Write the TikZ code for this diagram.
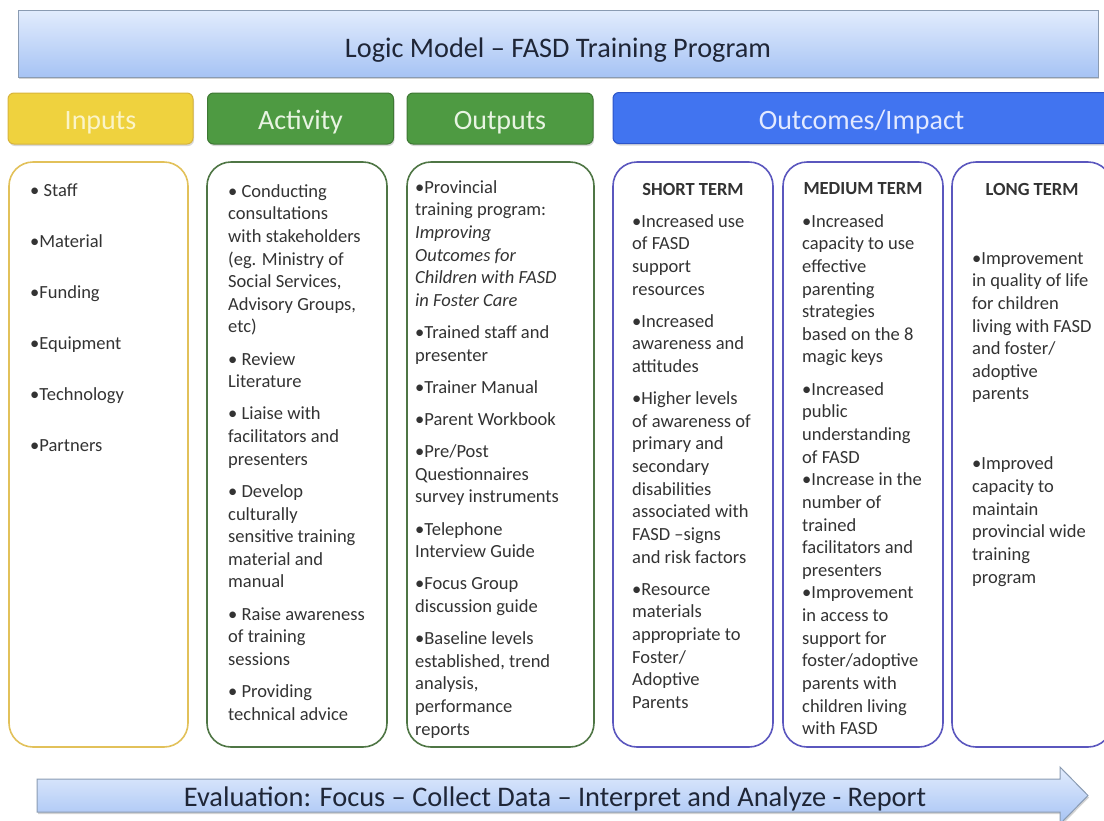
\documentclass[tikz,border=0pt]{standalone}
\usepackage{fontspec}
\setmainfont{Carlito}
\usetikzlibrary{shapes, arrows, positioning, shadows}
\definecolor{titletop}{HTML}{E2ECFD}
\definecolor{titlebot}{HTML}{A6C3F4}
\definecolor{titleline}{HTML}{8A9BB2}
\definecolor{titletext}{HTML}{1F2637}
\definecolor{inyellow}{HTML}{EFD23E}
\definecolor{inline}{HTML}{D8B43C}
\definecolor{intext}{HTML}{FBF4C8}
\definecolor{actgreen}{HTML}{4E9A42}
\definecolor{actline}{HTML}{3E7834}
\definecolor{acttext}{HTML}{E8F4E2}
\definecolor{impblue}{HTML}{4174F0}
\definecolor{impline}{HTML}{2D55C8}
\definecolor{imptext}{HTML}{E2E9FF}
\definecolor{colyellow}{HTML}{E2C15A}
\definecolor{colgreen}{HTML}{4F7645}
\definecolor{colpurple}{HTML}{5B57BE}
\definecolor{bodytext}{HTML}{333333}
\newcommand{\pgap}{\\[9.5pt]}
\tikzstyle{bar} = [draw=titleline, line width=1pt, top color=titletop, bottom color=titlebot, drop shadow={shadow xshift=1pt, shadow yshift=-2pt, opacity=0.35}]
\tikzstyle{header} = [rectangle, rounded corners=6pt, line width=1pt, minimum height=51pt, text height=24pt, text depth=2pt, font=\fontsize{28}{32}\selectfont, drop shadow={shadow xshift=1pt, shadow yshift=-2pt, opacity=0.3}]
\tikzstyle{column} = [rectangle, rounded corners=24pt, line width=1.6pt, fill=white, minimum height=585pt]
\tikzstyle{coltext} = [anchor=north west, align=left, inner sep=0pt, text=bodytext, font=\fontsize{18.5}{22.65}\selectfont]
\tikzstyle{termhead} = [inner sep=0pt, text=bodytext, font=\bfseries\fontsize{18.5}{22.65}\selectfont]
\begin{document}
\begin{tikzpicture}[x=1pt, y=-1pt]
	\clip (0,0) rectangle (1104,820);
	\node [bar, rectangle, minimum width=1080pt, minimum height=67pt, text height=28pt, text depth=1pt, text=titletext, font=\fontsize{28.3}{32}\selectfont] (title) at (558,43.5) {Logic Model – FASD Training Program};
	\node [header, draw=inline, fill=inyellow, text=intext, minimum width=185pt] (inputs) at (100.5,118.5) {Inputs};
	\node [header, draw=actline, fill=actgreen, text=acttext, minimum width=186pt] (activity) at (300.5,118.5) {Activity};
	\node [header, draw=actline, fill=actgreen, text=acttext, minimum width=186pt] (outputs) at (500,118.5) {Outputs};
	\node [header, draw=impline, fill=impblue, text=imptext, minimum width=497pt] (outcomes) at (861.5,118) {Outcomes/Impact};
	\node [column, draw=colyellow, minimum width=179pt] (inbox) at (98.5,454.5) {};
	\node [column, draw=colgreen, minimum width=180pt] (actbox) at (297,454.5) {};
	\node [column, draw=colgreen, minimum width=187pt] (outbox) at (500.5,454.5) {};
	\node [column, draw=colpurple, minimum width=160pt] (shortbox) at (693,454.5) {};
	\node [column, draw=colpurple, minimum width=160pt] (medbox) at (863,454.5) {};
	\node [column, draw=colpurple, minimum width=160pt] (longbox) at (1032,454.5) {};
	\node [coltext] (inlist) at (30,184) {• Staff\\[28.35pt]•Material\\[28.35pt]•Funding\\[28.35pt]•Equipment\\[28.35pt]•Technology\\[28.35pt]•Partners};
	\node [coltext] (actlist) at (228,184) {• Conducting\\consultations\\with stakeholders\\(eg. Ministry of\\Social Services,\\Advisory Groups,\\etc)\pgap
		• Review\\Literature\pgap
		• Liaise with\\facilitators and\\presenters\pgap
		• Develop\\culturally\\sensitive training\\material and\\manual\pgap
		• Raise awareness\\of training\\sessions\pgap
		• Providing\\technical advice};
	\node [coltext] (outlist) at (415,180) {•Provincial\\training program:\\\textit{Improving}\\\textit{Outcomes for}\\\textit{Children with FASD}\\\textit{in Foster Care}\pgap
		•Trained staff and\\presenter\pgap
		•Trainer Manual\pgap
		•Parent Workbook\pgap
		•Pre/Post\\Questionnaires\\survey instruments\pgap
		•Telephone\\Interview Guide\pgap
		•Focus Group\\discussion guide\pgap
		•Baseline levels\\established, trend\\analysis,\\performance\\reports};
	\node [termhead] (shorthead) at (693,189) {SHORT TERM};
	\node [termhead] (medhead) at (863,189) {MEDIUM TERM};
	\node [termhead] (longhead) at (1032,189) {LONG TERM};
	\node [coltext] (shortlist) at (632,214) {•Increased use\\of FASD\\support\\resources\pgap
		•Increased\\awareness and\\attitudes\pgap
		•Higher levels\\of awareness of\\primary and\\secondary\\disabilities\\associated with\\FASD –signs\\and risk factors\pgap
		•Resource\\materials\\appropriate to\\Foster/\\Adoptive\\Parents};
	\node [coltext] (medlist) at (802,214) {•Increased\\capacity to use\\effective\\parenting\\strategies\\based on the 8\\magic keys\pgap
		•Increased\\public\\understanding\\of FASD\\•Increase in the\\number of\\trained\\facilitators and\\presenters\\•Improvement\\in access to\\support for\\foster/adoptive\\parents with\\children living\\with FASD};
	\node [coltext] (longlist) at (972,252) {•Improvement\\in quality of life\\for children\\living with FASD\\and foster/\\adoptive\\parents\\[47.35pt]
		•Improved\\capacity to\\maintain\\provincial wide\\training\\program};
	\draw [bar] (37,779) -- (1060,779) -- (1060,767) -- (1088,795.5) -- (1060,824) -- (1060,812) -- (37,812) -- cycle;
	\node [text=titletext, font=\fontsize{28.4}{32}\selectfont] (evaluation) at (555,799) {Evaluation: Focus – Collect Data – Interpret and Analyze - Report};
\end{tikzpicture}
\end{document}
